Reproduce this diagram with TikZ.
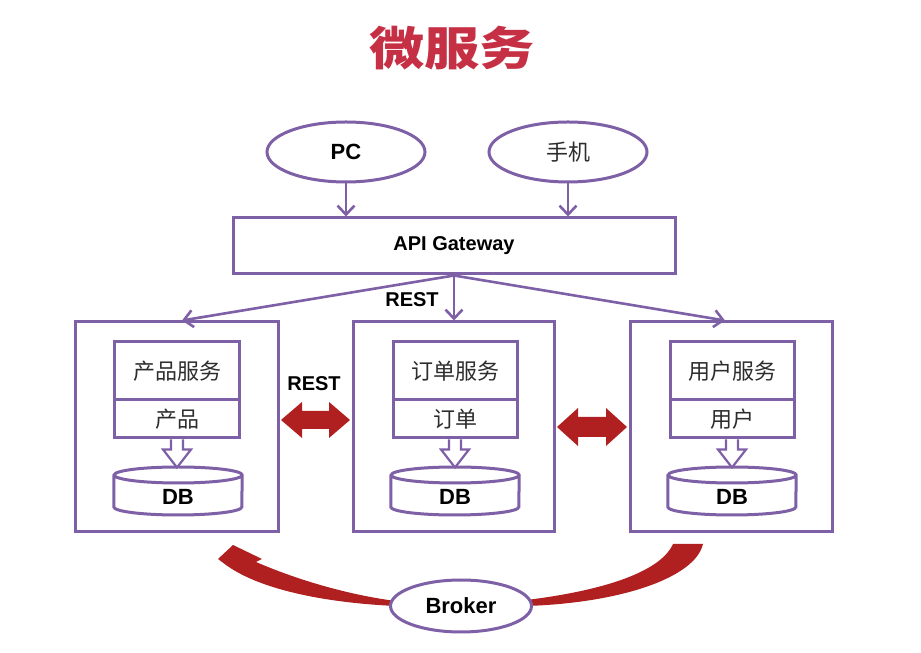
\documentclass[tikz,border=0pt]{standalone}
\usepackage{fontspec}
\setmainfont{Liberation Sans}
\newfontfamily\cjk{Noto Sans CJK SC}
\usetikzlibrary{shapes.geometric,arrows.meta,calc}
\definecolor{pur}{RGB}{126,96,166}
\definecolor{rd}{RGB}{176,32,32}
\definecolor{ttl}{RGB}{198,48,68}
\definecolor{txt}{RGB}{45,45,45}
\newcommand\dbshape[1]{%
  \draw[pline,fill=white] ($(#1.west)+(0,16)$) -- ($(#1.west)+(0,-16)$)
    arc[start angle=180,end angle=360,x radius=64,y radius=8]
    -- ($(#1.east)+(0,16)$)
    arc[start angle=0,end angle=360,x radius=64,y radius=8];}
\newcommand\hollowarr[1]{%
  \draw[pline,line width=2.2pt,fill=white] ($(#1.south)+(-6,0)$) -- ++(0,-10) -- ++(-8,0)
    -- ($(#1.south)+(0,-28)$) -- ($(#1.south)+(14,-10)$) -- ++(-8,0) -- ++(0,10);}
\begin{document}
\begin{tikzpicture}[x=1pt,y=1pt,
  pline/.style={draw=pur,line width=3pt},
  box/.style={rectangle,draw=pur,line width=3pt,fill=white,inner sep=0pt},
  ell/.style={ellipse,draw=pur,line width=3pt,fill=white,inner sep=0pt,minimum width=158pt,minimum height=60pt},
  latin/.style={font=\bfseries\fontsize{22}{22}\selectfont,text=black},
  cjkt/.style={font=\cjk\fontsize{22}{22}\selectfont,text=txt},
  lbl/.style={font=\bfseries\fontsize{20}{20}\selectfont,text=black,inner sep=0pt},
  parr/.style={draw=pur,line width=2.6pt,-{Straight Barb[length=9pt,width=17pt]}},
  dbholder/.style={minimum width=128pt,minimum height=48pt,inner sep=0pt},
  redc/.style={fill=rd}
]
\useasboundingbox (0,0) rectangle (921,653);
\fill[white] (0,0) rectangle (921,653);

% title
\node[text=ttl,font=\cjk\bfseries\fontsize{46}{46}\selectfont] (title) at (452,605) {\scalebox{1.2}[1]{微服务}};

% clients
\node[ell,latin] (pc) at (346,501) {PC};
\node[ell,font=\cjk\fontsize{22}{22}\selectfont,text=txt] (mob) at (568,501) {手机};

% gateway
\node[box,lbl,inner sep=0pt,minimum width=442pt,minimum height=56pt] (gw) at (454,407) {API Gateway};
\draw[parr] (pc.south) -- (pc.south |- gw.north);
\draw[parr] (mob.south) -- (mob.south |- gw.north);

% service boxes
\node[box,minimum width=203pt,minimum height=210pt] (b1) at (176.5,226) {};
\node[box,minimum width=201pt,minimum height=210pt] (b2) at (453.5,226) {};
\node[box,minimum width=202pt,minimum height=210pt] (b3) at (731,226) {};

\draw[parr] (gw.south) -- ($(b1.north)+(5.5,0)$);
\draw[parr] (gw.south) -- (gw.south |- b2.north);
\draw[parr] (gw.south) -- ($(b3.north)+(-6,0)$);
\node[lbl] (rest1) at (412,353) {REST};
\node[lbl] (rest2) at (314,269) {REST};

% inner services
\node[box,cjkt,minimum width=125pt,minimum height=58pt] (s1) at (177,282) {产品服务};
\node[box,cjkt,minimum width=125pt,minimum height=38pt] (d1) at (177,234) {产品};
\node[box,cjkt,minimum width=124pt,minimum height=58pt] (s2) at (455,282) {订单服务};
\node[box,cjkt,minimum width=124pt,minimum height=38pt] (d2) at (455,234) {订单};
\node[box,cjkt,minimum width=124pt,minimum height=58pt] (s3) at (732,282) {用户服务};
\node[box,cjkt,minimum width=124pt,minimum height=38pt] (d3) at (732,234) {用户};

% databases
\node[dbholder] (db1) at (178,162) {};
\node[dbholder] (db2) at (455,162) {};
\node[dbholder] (db3) at (732,162) {};
\dbshape{db1}\dbshape{db2}\dbshape{db3}
\node[latin] (dbt1) at ($(db1)+(0,-6)$) {DB};
\node[latin] (dbt2) at ($(db2)+(0,-6)$) {DB};
\node[latin] (dbt3) at ($(db3)+(0,-6)$) {DB};
\hollowarr{d1}\hollowarr{d2}\hollowarr{d3}

% red double arrows
\coordinate (l1) at ($(b1.east)+(1.5,7)$);
\coordinate (r1) at ($(b2.west)+(-1.5,7)$);
\fill[redc] (l1) -- ++(21,18) -- ++(0,-9) -- ($(r1)+(-21,9)$) -- ++(0,9) -- (r1)
  -- ++(-21,-18) -- ++(0,9) -- ($(l1)+(21,-9)$) -- ++(0,-9) -- cycle;
\coordinate (l2) at ($(b2.east)+(1.5,0)$);
\coordinate (r2) at ($(b3.west)+(-1.5,0)$);
\fill[redc] (l2) -- ++(21,19) -- ++(0,-9) -- ($(r2)+(-21,10)$) -- ++(0,9) -- (r2)
  -- ++(-21,-19) -- ++(0,9) -- ($(l2)+(21,-10)$) -- ++(0,-9) -- cycle;

% broker
\coordinate (brkc) at (461,47);
\coordinate (brkw) at (390.5,47);
\coordinate (brke) at (531.5,47);
\fill[redc] (218,94) -- (233,108) -- (262,94) -- (256,91)
  .. controls (300,72) and (350,58) .. ($(brkw)+(5,5)$)
  -- ($(brkw)+(5,0)$)
  .. controls (330,50) and (262,62) .. (226,88) -- cycle;
\fill[redc] ($(brke)+(-5,6)$) .. controls (600,62) and (660,80) .. (673,109)
  -- (703,109) .. controls (695,75) and (620,50) .. ($(brke)+(-5,0)$) -- cycle;
\node[ell,latin,minimum width=141pt,minimum height=52pt] (brk) at (brkc) {Broker};
\end{tikzpicture}
\end{document}
